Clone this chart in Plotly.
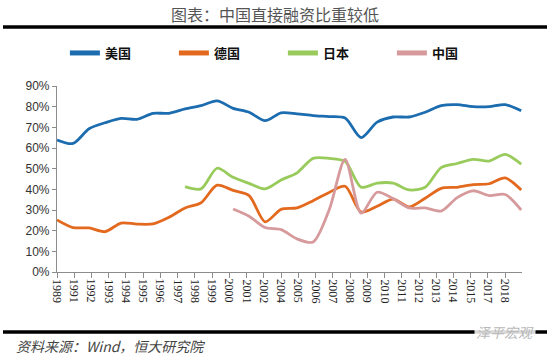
import plotly.graph_objects as go
import numpy as np

years = list(range(1989, 2019))
tick_labels = ["1989", "1991", "1992", "1993", "1994", "1995", "1996", "1997", "1998",
               "1999", "2000", "2001", "2002", "2004", "2005", "2006", "2007", "2008",
               "2009", "2010", "2011", "2012", "2013", "2014", "2015", "2017", "2018"]

us = [63.9, 62.2, 69.3, 72.2, 74.3, 73.9, 76.8, 76.8, 78.9, 80.5,
      82.8, 79.2, 77.3, 73.2, 77.0, 76.5, 75.7, 75.2, 74.5, 65.0,
      72.5, 75.0, 75.0, 77.3, 80.5, 81.0, 80.0, 80.0, 81.0, 78.0]
germany = [25.2, 21.5, 21.3, 19.5, 23.7, 23.2, 23.3, 26.5, 31.0, 33.5,
           42.0, 39.5, 37.0, 24.3, 30.3, 31.0, 34.5, 38.5, 41.5, 29.0,
           31.8, 35.3, 31.5, 35.7, 40.5, 41.0, 42.3, 42.7, 45.5, 39.7]
japan = [None] * 8 + [41.3, 40.2, 50.2, 45.8, 42.9, 40.2, 44.5, 48.0, 55.0, 55.0,
                      53.5, 41.0, 43.0, 43.0, 39.7, 41.0, 50.5, 52.5, 54.5, 53.7,
                      56.9, 52.2]
china = [None] * 11 + [30.5, 27.0, 21.5, 20.5, 16.0, 14.5, 30.0, 54.5, 28.5, 38.6,
                       35.5, 31.0, 31.0, 29.5, 36.0, 39.3, 37.0, 37.5, 30.0]

series = [("美国", us, "#1c6cb0"), ("德国", germany, "#e2691d"),
          ("日本", japan, "#98cb5b"), ("中国", china, "#d69a9c")]

fig = go.Figure()
for name, vals, col in series:
    fig.add_trace(go.Scatter(
        x=years, y=[v / 100 if v is not None else None for v in vals],
        name=name, mode="lines",
        line=dict(color=col, width=2.8, shape="spline", smoothing=0.8),
    ))

tickvals = np.linspace(years[0], years[0] + 28, len(tick_labels))

fig.update_layout(
    width=550, height=360,
    margin=dict(l=57, r=28, t=86, b=88, autoexpand=False),
    paper_bgcolor="white", plot_bgcolor="white",
    showlegend=True,
    legend=dict(orientation="h", xref="container", yref="container",
                x=0.118, y=1 - 53 / 360, xanchor="left", yanchor="middle",
                entrywidth=64, entrywidthmode="pixels",
                font=dict(family="Noto Sans CJK SC", size=13, color="#111111", weight="bold"),
                itemsizing="constant", tracegroupgap=0),
    xaxis=dict(range=[years[0], years[-1] + 0.05], tickmode="array", tickvals=tickvals,
               showticklabels=False, showgrid=False, zeroline=False,
               showline=True, linecolor="#8c8c8c", linewidth=1.2,
               ticks="outside", ticklen=5, tickcolor="#8c8c8c"),
    yaxis=dict(range=[0, 0.9], tickmode="array", tickvals=[i / 10 for i in range(10)],
               tickformat=".0%", showgrid=False, zeroline=False,
               showline=True, linecolor="#8c8c8c", linewidth=1.2,
               ticks="outside", ticklen=4, tickcolor="#8c8c8c",
               tickfont=dict(family="Liberation Sans", size=12, color="#333333")),
)

for tv, lab in zip(tickvals, tick_labels):
    fig.add_annotation(text=lab, x=tv, xref="x", y=0, yref="paper",
                       xanchor="center", yanchor="top", yshift=-5, textangle=90,
                       showarrow=False,
                       font=dict(family="Liberation Serif", size=12, color="#222222"))

fig.add_shape(type="line", xref="paper", yref="paper",
              x0=-54 / 465, x1=490 / 465, y0=(272 - 27) / 186, y1=(272 - 27) / 186,
              line=dict(color="black", width=3.5))
fig.add_shape(type="line", xref="paper", yref="paper",
              x0=-54 / 465, x1=490 / 465, y0=(272 - 332) / 186, y1=(272 - 332) / 186,
              line=dict(color="black", width=3.5))

fig.add_annotation(text="图表：中国直接融资比重较低", xref="paper", yref="paper",
                   x=(275 - 57) / 465, y=(272 - 14) / 186, xanchor="center", yanchor="middle",
                   showarrow=False, font=dict(family="Noto Sans CJK SC", size=16, color="#555555"))
fig.add_annotation(text="资料来源：Wind，恒大研究院", xref="paper", yref="paper",
                   x=(14 - 57) / 465, y=(272 - 346) / 186, xanchor="left", yanchor="middle",
                   showarrow=False,
                   font=dict(family="Noto Sans CJK SC", size=14, color="#444444", style="italic"))
fig.add_annotation(text="泽平宏观", xref="paper", yref="paper",
                   x=(536 - 57) / 465, y=(272 - 332) / 186, xanchor="right", yanchor="middle",
                   showarrow=False, bgcolor="rgba(255,255,255,0.85)",
                   font=dict(family="Noto Sans CJK SC", size=14, color="#b8b8b8", style="italic"))

fig.write_html("out.html", config={"displayModeBar": False},
               post_script="document.body.style.margin='0';document.body.style.overflow='hidden';")
